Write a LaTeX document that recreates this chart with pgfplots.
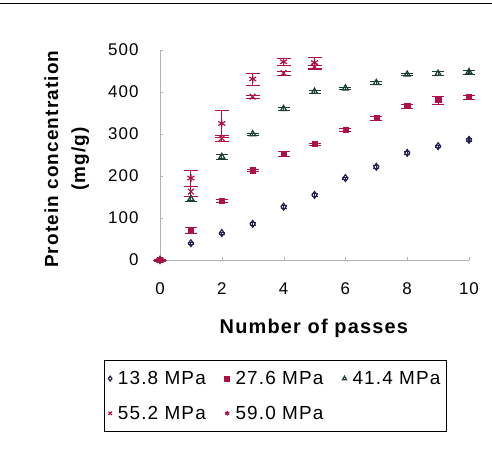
\documentclass[border=0pt]{standalone}
\usepackage{pgfplots}
\pgfplotsset{compat=1.18}
\usepackage{fontspec}
\setmainfont{Liberation Sans}[LetterSpace=6]
\definecolor{cnavy}{HTML}{202050}
\definecolor{cred}{HTML}{B0104A}
\definecolor{cgreen}{HTML}{1A4030}
\begin{document}
\begin{tikzpicture}
\useasboundingbox (0,0) rectangle (492bp,456bp);
\fill[white] (0,0) rectangle (492bp,456bp);
\draw[line width=0.8bp] (0,453bp) -- (492bp,453bp);
\begin{axis}[
  at={(160bp,196bp)}, anchor=origin,
  scale only axis, width=309bp, height=210bp,
  xmin=0, xmax=10, ymin=0, ymax=500,
  axis x line=bottom, axis y line=left,
  axis line style={gray!60, line width=0.5bp, -},
  xtick={0,2,...,10}, ytick={0,100,...,500},
  tick style={gray!60},
  tick align=inside, major tick length=3bp,
  /pgf/number format/assume math mode=true,
  ticklabel style={font=\fontsize{17}{19}\selectfont},
  xticklabel style={yshift=-19bp},
  yticklabel style={xshift=-18bp},
  xlabel={\bfseries Number of passes},
  xlabel style={font=\fontsize{20}{22}\selectfont, at={(axis description cs:0.498,-0.324)}, anchor=center},
  ylabel={\bfseries\begin{tabular}{@{}c@{}}Protein concentration\\[5bp](mg/g)\end{tabular}},
  ylabel style={font=\fontsize{19}{22}\selectfont, at={(axis description cs:-0.3,0.48)}, anchor=center},
  clip=false,
  legend columns=3,
  legend style={at={(-0.181,-0.476)}, anchor=north west, draw=black, line width=0.6bp,
    font=\fontsize{19}{21}\selectfont, row sep=16bp, inner xsep=4bp, inner ysep=9bp,
    /tikz/every odd column/.append style={column sep=4bp},
    /tikz/every even column/.append style={column sep=17bp}},
  legend image code/.code={\draw[#1, mark size=2.4bp] plot coordinates {(0bp,0bp)};},
  legend cell align=left,
  error bars/y dir=both, error bars/y explicit,
  error bars/error bar style={line width=1.1bp},
  error bars/error mark options={rotate=90, mark size=7bp, line width=1.1bp},
]
\addplot[only marks, mark=diamond, mark size=3.4bp, draw=cnavy, line width=1.2bp,
  error bars/error bar style={cnavy}, error bars/error mark options={rotate=90,mark size=3bp,draw=cnavy}]
  coordinates {(0,0)+-(0,0) (1,40)+-(0,3) (2,64)+-(0,3) (3,86)+-(0,3) (4,127)+-(0,3) (5,155)+-(0,3)
  (6,195)+-(0,3) (7,222)+-(0,3) (8,255)+-(0,3) (9,271)+-(0,3) (10,286)+-(0,3)};
\addlegendentry{13.8 MPa}
\addplot[only marks, mark=square*, mark size=2.6bp, draw=cred, fill=cred,
  error bars/error bar style={cred}, error bars/error mark options={rotate=90,mark size=6bp,draw=cred}]
  coordinates {(0,0)+-(0,3) (1,71)+-(0,6) (2,141)+-(0,4) (3,214)+-(0,3) (4,254)+-(0,6) (5,276)+-(0,3)
  (6,311)+-(0,4) (7,338)+-(0,4) (8,367)+-(0,5) (9,381)+-(0,9) (10,388)+-(0,5)};
\addlegendentry{27.6 MPa}
\addplot[only marks, mark=triangle, mark size=3.4bp, draw=cgreen, line width=1.2bp,
  error bars/error bar style={cgreen}, error bars/error mark options={rotate=90,mark size=6bp,draw=cgreen}]
  coordinates {(0,0)+-(0,0) (1,146)+-(0,6) (2,246)+-(0,5) (3,300)+-(0,3) (4,360)+-(0,4) (5,401)+-(0,4)
  (6,409)+-(0,3) (7,422)+-(0,3) (8,442)+-(0,3) (9,444)+-(0,5) (10,448)+-(0,5)};
\addlegendentry{41.4 MPa}
\addplot[only marks, mark=x, mark size=4bp, draw=cred, line width=1.2bp,
  error bars/error bar style={cred}, error bars/error mark options={rotate=90,mark size=7bp,draw=cred}]
  coordinates {(0,0)+-(0,0) (1,163)+-(0,12) (2,290)+-(0,6) (3,389)+-(0,4) (4,445)+-(0,5) (5,460)+-(0,5)};
\addlegendentry{55.2 MPa}
\addplot[only marks, mark=asterisk, mark size=4bp, draw=cred, line width=1.2bp,
  error bars/error bar style={cred}, error bars/error mark options={rotate=90,mark size=7bp,draw=cred}]
  coordinates {(0,0)+-(0,0) (1,195)+-(0,20) (2,325)+-(0,32) (3,431)+-(0,14) (4,472)+-(0,8) (5,470)+-(0,14)};
\addlegendentry{59.0 MPa}
\end{axis}
\end{tikzpicture}
\end{document}
